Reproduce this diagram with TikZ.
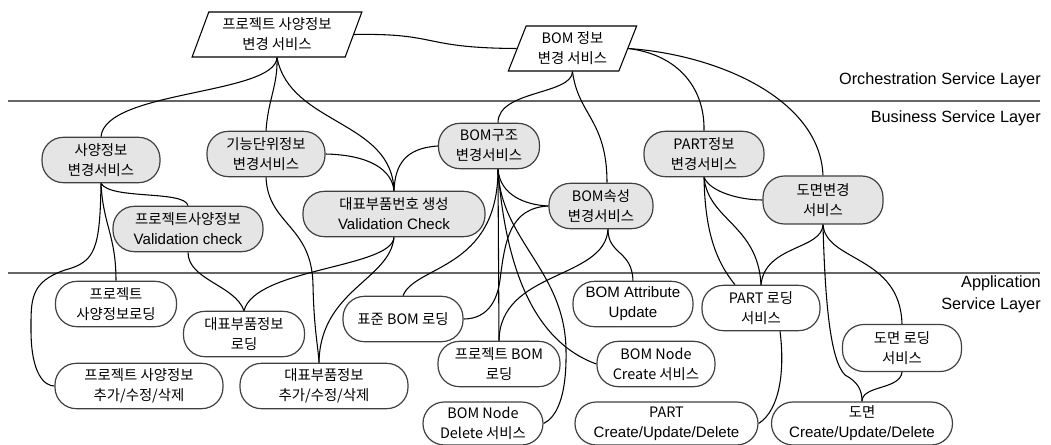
\documentclass[tikz,border=0pt]{standalone}
\usepackage{fontspec}
\setmainfont{Liberation Sans}
\newfontfamily\kr{Noto Sans CJK KR}
\newfontfamily\latf{Liberation Sans}
\usetikzlibrary{shapes.geometric}
\pgfdeclarelayer{background}
\pgfsetlayers{background,main}
\begin{document}
\begin{tikzpicture}[x=0.75pt,y=-0.75pt,
  bsvc/.style={draw=black!75, line width=0.9pt, fill=black!10, rounded corners=16pt,
    minimum height=34pt, inner sep=0pt, align=center, font=\kr\fontsize{10.8}{15}\selectfont},
  asvc/.style={bsvc, fill=white},
  osvc/.style={trapezium, trapezium left angle=68, trapezium right angle=112,
    trapezium stretches=true, draw=black, line width=0.8pt, fill=white, inner sep=0pt,
    minimum height=33.75pt, align=center, font=\kr\fontsize{10.8}{15}\selectfont},
  link/.style={draw=black, line width=0.8pt},
  layer/.style={draw=black!60, line width=0.8pt},
  lbl/.style={font=\latf\fontsize{12.2}{16.5}\selectfont, anchor=east, align=right, inner sep=0pt}
]
\useasboundingbox (0,0) rectangle (1051,445);

% layer labels
\node[lbl] (L1) at (1041,80) {Orchestration Service Layer};
\node[lbl] (L2) at (1041,118) {Business Service Layer};
\node[lbl] (L3) at (1041,294) {Application\\Service Layer};

% orchestration
\node[osvc, minimum width=127.5pt] (P1) at (277,34.5) {프로젝트 사양정보\\변경 서비스};
\node[osvc, minimum width=96.75pt] (P2) at (572.5,48.5) {BOM 정보\\변경 서비스};

% business
\node[bsvc, minimum width=88.5pt] (B1) at (101,160) {사양정보\\변경서비스};
\node[bsvc, minimum width=88.5pt] (B2) at (266,154) {기능단위정보\\변경서비스};
\node[bsvc, minimum width=112.5pt] (B3) at (188,229) {프로젝트사양정보\\{\latf\fontsize{11.3}{15}\selectfont Validation check}};
\node[bsvc, minimum width=136.5pt] (B4) at (394,214) {대표부품번호 생성\\{\latf\fontsize{11.3}{15}\selectfont Validation Check}};
\node[bsvc, minimum width=75.75pt] (B5) at (489,146) {BOM구조\\변경서비스};
\node[bsvc, minimum width=78pt] (B6) at (601,206) {BOM속성\\변경서비스};
\node[bsvc, minimum width=90pt] (B7) at (704,154) {PART정보\\변경서비스};
\node[bsvc, minimum width=90pt, minimum height=36pt] (B8) at (823,200) {도면변경\\서비스};

% application
\node[asvc, minimum width=90.75pt] (A1) at (116,304) {프로젝트\\사양정보로딩};
\node[asvc, minimum width=90.75pt] (A2) at (244,334) {대표부품정보\\로딩};
\node[asvc, minimum width=126pt] (A3) at (139,386) {프로젝트 사양정보\\추가/수정/삭제};
\node[asvc, minimum width=126pt] (A4) at (324,386) {대표부품정보\\추가/수정/삭제};
\node[asvc, minimum width=90pt] (A5) at (403,319) {표준 BOM 로딩};
\node[asvc, minimum width=91.5pt] (A6) at (499,364) {프로젝트 BOM\\로딩};
\node[asvc, minimum width=90pt, minimum height=32.25pt] (A7) at (483,423.5) {BOM Node\\Delete 서비스};
\node[asvc, minimum width=90pt] (A8) at (633,304) {{\latf\fontsize{11.3}{15}\selectfont BOM Attribute}\\{\latf\fontsize{11.3}{15}\selectfont Update}};
\node[asvc, minimum width=88.5pt] (A9) at (656,364) {BOM Node\\Create 서비스};
\node[asvc, minimum width=137.25pt, minimum height=32.25pt] (A10) at (666.5,423.5) {PART\\{\latf\fontsize{11.3}{15}\selectfont Create/Update/Delete}};
\node[asvc, minimum width=88.5pt] (A11) at (761,308) {PART 로딩\\서비스};
\node[asvc, minimum width=89.25pt, minimum height=35.25pt] (A12) at (902,348) {도면 로딩\\서비스};
\node[asvc, minimum width=135.75pt, minimum height=32.25pt] (A13) at (862,423.5) {도면\\{\latf\fontsize{11.3}{15}\selectfont Create/Update/Delete}};

\begin{pgfonlayer}{background}
\coordinate (LL1) at (8,101);
\coordinate (LR1) at (1040,101);
\coordinate (LL2) at (8,273);
\coordinate (LR2) at (1040,273);
\draw[layer] (LL1) -- (LR1);
\draw[layer] (LL2) -- (LR2);

% orchestration links
\draw[link] (P1.east) .. controls (440,33) and (420,48) .. (P2.west);
\draw[link] (P1.south) .. controls (275,95) and (105,90) .. (B1.north);
\draw[link] (P1.south) .. controls (278,85) and (268,100) .. (B2.north);
\draw[link] (P1.south) .. controls (290,125) and (392,120) .. (B4.north);
\draw[link] (P2.south) .. controls (572,95) and (498,90) .. ([xshift=6.75pt]B5.north);
\draw[link] (P2.south) .. controls (578,115) and (607,120) .. ([xshift=4.5pt]B6.north);
\draw[link] (P2.east) .. controls (680,55) and (705,90) .. (B7.north);
\draw[link] (P2.east) .. controls (720,55) and (820,100) .. (B8.north);

% business links
\draw[link] (B2.east) .. controls (370,155) and (392,170) .. (B4.north);
\draw[link] (B5.west) .. controls (405,148) and (395,165) .. (B4.north);
\draw[link] (B1.south) .. controls (110,200) and (185,190) .. (B3.north);
\draw[link] (B1.south) .. controls (103,225) and (116,235) .. (A1.north);
\draw[link] (B1.south) .. controls (100,250) and (95,262) .. (65,270)
   .. controls (30,282) and (31,300) .. (31,330) .. controls (31,375) and (45,386) .. (A3.west);
\draw[link] (B3.south) .. controls (188,280) and (235,285) .. (A2.north);
\draw[link] (B4.south) .. controls (392,268) and (255,268) .. (A2.north);
\draw[link] (B4.south) .. controls (390,280) and (320,290) .. ([xshift=-3.75pt]A4.north);
\draw[link] (B2.south) .. controls (268,225) and (312,225) .. (313,285)
   .. controls (314,330) and (318,345) .. ([xshift=-3.75pt]A4.north);

% BOM structure fan
\draw[link] ([xshift=6.75pt]B5.south) -- (A6.north);
\draw[link] ([xshift=6.75pt]B5.south) .. controls (500,195) and (525,205) .. (B6.west);
\draw[link] ([xshift=6.75pt]B5.south) .. controls (498,270) and (415,265) .. (A5.north);
\draw[link] ([xshift=6.75pt]B5.south) .. controls (500,240) and (565,270) .. (566,350)
   .. controls (567,400) and (555,418) .. (A7.east);
\draw[link] ([xshift=6.75pt]B5.south) .. controls (505,260) and (530,340) .. (A9.west);

% BOM attribute
\draw[link] ([xshift=5.25pt]B6.south) .. controls (608,255) and (632,250) .. (A8.north);
\draw[link] ([xshift=5.25pt]B6.south) .. controls (605,280) and (500,270) .. (A6.north);
\draw[link] (B6.west) .. controls (510,208) and (505,240) .. (500,280)
   .. controls (496,310) and (480,319) .. (A5.east);

% PART / drawing
\draw[link] (B7.south) .. controls (710,192) and (740,200) .. (B8.west);
\draw[link] (B7.south) .. controls (708,220) and (758,225) .. (A11.north);
\draw[link] (B7.south) .. controls (705,230) and (715,260) .. ([xshift=-19.5pt]A11.north);
\draw[link] (B8.south) .. controls (822,250) and (765,245) .. (A11.north);
\draw[link] (B8.south) .. controls (826,262) and (900,255) .. (A12.north);
\draw[link] (B8.south) .. controls (825,300) and (830,360) .. (845,375)
   .. controls (858,382) and (862,390) .. (A13.north);
\draw[link] (A12.south) .. controls (900,390) and (862,385) .. (A13.north);
\draw[link] ([xshift=14.25pt]A11.south) .. controls (785,370) and (780,410) .. (A10.east);
\end{pgfonlayer}
\end{tikzpicture}
\end{document}
